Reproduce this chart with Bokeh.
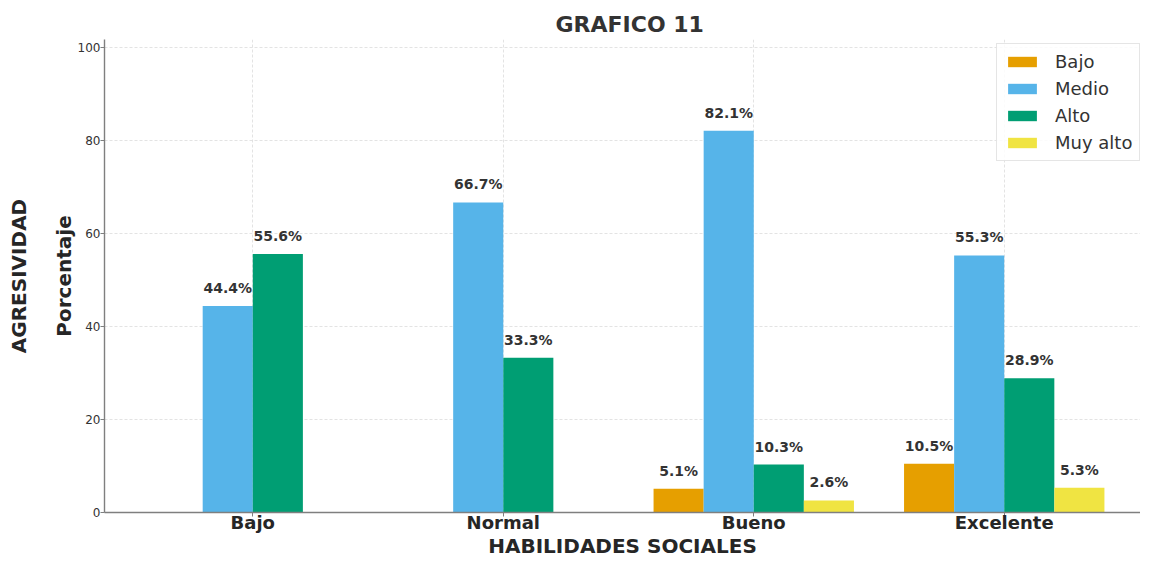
from bokeh.plotting import figure
from bokeh.models import Range1d, FixedTicker, LinearAxis, Legend, LegendItem, ColumnDataSource
from bokeh.embed import file_html
from bokeh.resources import INLINE

categories = ["Bajo", "Normal", "Bueno", "Excelente"]
series = ["Bajo", "Medio", "Alto", "Muy alto"]
vals_bajo = [0.0, 0.0, 5.1, 10.5]
vals_medio = [44.4, 66.7, 82.1, 55.3]
vals_alto = [55.6, 33.3, 10.3, 28.9]
vals_muy_alto = [0.0, 0.0, 2.6, 5.3]
colors = ["#E69F00", "#56B4E9", "#009E73", "#F0E442"]
y_ticks = [0, 20, 40, 60, 80, 100]

all_vals = [vals_bajo, vals_medio, vals_alto, vals_muy_alto]
offsets = [-0.3, -0.1, 0.1, 0.3]
bar_w = 0.2
FONT = "DejaVu Sans"
TXT = "#333333"

p = figure(width=1140, height=560, output_backend="svg", toolbar_location=None,
           x_range=Range1d(-0.592, 3.544), y_range=Range1d(0, 101.75),
           min_border_left=104, min_border_right=0, min_border_top=39, min_border_bottom=42)

p.title.text = "GRAFICO 11"
p.title.align = "left"
p.title.offset = 451
p.title.text_font = FONT
p.title.text_font_size = "22px"
p.title.text_color = TXT
p.title.text_font_style = "bold"
p.title.standoff = 5

p.outline_line_color = None
p.background_fill_color = "white"

items = []
for name, vals, col, off in zip(series, all_vals, colors, offsets):
    xs = [i + off for i in range(len(categories))]
    src = ColumnDataSource(dict(x=xs, top=vals))
    r = p.vbar(x="x", top="top", width=bar_w, source=src, fill_color=col, line_color=None)
    items.append(LegendItem(label=name, renderers=[r]))
    lx = [x for x, v in zip(xs, vals) if v > 0]
    lv = [v for v in vals if v > 0]
    ltxt = [f"{v:.1f}%" for v in lv]
    p.text(x=lx, y=lv, text=ltxt, text_align="center", text_baseline="bottom",
           y_offset=-10, text_font_size="14px", text_font_style="bold",
           text_color=TXT, text_font={"value": FONT})

# axes
xa = p.xaxis[0]
xa.ticker = FixedTicker(ticks=list(range(len(categories))))
xa.major_label_overrides = {i: c for i, c in enumerate(categories)}
xa.major_label_text_font = FONT
xa.major_label_text_font_size = "18px"
xa.major_label_text_font_style = "bold"
xa.major_label_text_color = "#262626"
xa.major_label_standoff = -5
xa.axis_label = "HABILIDADES SOCIALES"
xa.axis_label_text_font = FONT
xa.axis_label_text_font_size = "20px"
xa.axis_label_text_font_style = "bold"
xa.axis_label_text_color = "#262626"
xa.axis_label_standoff = -2
xa.axis_line_color = "#7f7f7f"
xa.axis_line_width = 1.4
xa.major_tick_out = 4
xa.major_tick_in = 0
xa.major_tick_line_color = "#7f7f7f"
xa.minor_tick_line_color = None

ya = p.yaxis[0]
ya.ticker = FixedTicker(ticks=y_ticks)
ya.major_label_text_font = FONT
ya.major_label_text_font_size = "12px"
ya.major_label_text_color = TXT
ya.major_label_standoff = 0
ya.axis_label = "Porcentaje"
ya.axis_label_text_font = FONT
ya.axis_label_text_font_size = "20px"
ya.axis_label_text_font_style = "bold"
ya.axis_label_text_color = "#262626"
ya.axis_label_standoff = -1
ya.axis_line_color = "#7f7f7f"
ya.axis_line_width = 1.4
ya.major_tick_out = 4
ya.major_tick_in = 0
ya.major_tick_line_color = "#7f7f7f"
ya.minor_tick_line_color = None

extra = LinearAxis(axis_label="AGRESIVIDAD", ticker=FixedTicker(ticks=[]),
                   major_label_text_font_size="0px", major_tick_line_color=None,
                   minor_tick_line_color=None, axis_line_color=None,
                   axis_label_text_font=FONT, axis_label_text_font_size="20px",
                   axis_label_text_font_style="bold", axis_label_text_color="#262626",
                   axis_label_standoff=18, major_label_standoff=0)
p.add_layout(extra, "left")

for g in (p.xgrid[0], p.ygrid[0]):
    g.grid_line_color = "#dcdcdc"
    g.grid_line_dash = "3 2"
    g.grid_line_width = 0.8
p.xgrid[0].ticker = FixedTicker(ticks=list(range(len(categories))))
p.ygrid[0].ticker = FixedTicker(ticks=y_ticks)

legend = Legend(items=items, location=(892, 351), orientation="vertical",
                label_text_font=FONT, label_text_font_size="18px", label_text_color=TXT,
                glyph_width=36, glyph_height=13, label_height=20, label_standoff=15,
                spacing=6, padding=7, margin=0,
                border_line_color="#cccccc", border_line_width=1,
                background_fill_color="white", background_fill_alpha=0.85)
p.add_layout(legend, "center")

open("out.html", "w").write(file_html(p, INLINE))
